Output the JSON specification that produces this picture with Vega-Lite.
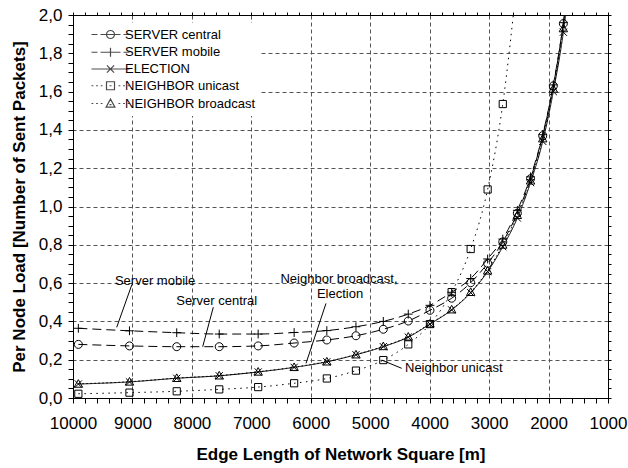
{
  "$schema": "https://vega.github.io/schema/vega-lite/v6.json",
  "autosize": {"type": "none"},
  "padding": {"left": 73, "top": 15, "right": 20, "bottom": 70},
  "width": 535,
  "height": 383,
  "background": "white",
  "config": {
    "view": {"stroke": "black", "strokeWidth": 1},
    "font": "Liberation Sans",
    "axis": {
      "labelFont": "Liberation Sans", "labelFontSize": 17, "labelColor": "black",
      "titleFont": "Liberation Sans", "titleFontSize": 17, "titleFontWeight": "bold", "titleColor": "black",
      "tickColor": "black", "domainColor": "black", "tickWidth": 1, "domainWidth": 1,
      "gridColor": "#555555", "gridDash": [4, 3], "gridWidth": 1, "labelOverlap": false, "labelFlush": false
    },
    "legend": {"labelFont": "Liberation Sans", "labelFontSize": 13, "labelColor": "black"}
  },
  "resolve": {"scale": {"shape": "independent"}, "legend": {"shape": "independent"}},
  "datasets": {
    "series": [
      {"s": "SERVER central", "x": 9910, "y": 0.280},
      {"s": "SERVER central", "x": 9050, "y": 0.272},
      {"s": "SERVER central", "x": 8255, "y": 0.268},
      {"s": "SERVER central", "x": 7540, "y": 0.268},
      {"s": "SERVER central", "x": 6885, "y": 0.272},
      {"s": "SERVER central", "x": 6280, "y": 0.287},
      {"s": "SERVER central", "x": 5730, "y": 0.303},
      {"s": "SERVER central", "x": 5240, "y": 0.325},
      {"s": "SERVER central", "x": 4780, "y": 0.359},
      {"s": "SERVER central", "x": 4360, "y": 0.402},
      {"s": "SERVER central", "x": 3995, "y": 0.458},
      {"s": "SERVER central", "x": 3630, "y": 0.521},
      {"s": "SERVER central", "x": 3310, "y": 0.602},
      {"s": "SERVER central", "x": 3025, "y": 0.703},
      {"s": "SERVER central", "x": 2770, "y": 0.815},
      {"s": "SERVER central", "x": 2525, "y": 0.965},
      {"s": "SERVER central", "x": 2303, "y": 1.145},
      {"s": "SERVER central", "x": 2098, "y": 1.370},
      {"s": "SERVER central", "x": 1920, "y": 1.630},
      {"s": "SERVER central", "x": 1751, "y": 1.955},
      {"s": "SERVER central", "x": 1600, "y": 2.340},
      {"s": "SERVER mobile", "x": 9910, "y": 0.364},
      {"s": "SERVER mobile", "x": 9050, "y": 0.351},
      {"s": "SERVER mobile", "x": 8255, "y": 0.341},
      {"s": "SERVER mobile", "x": 7540, "y": 0.334},
      {"s": "SERVER mobile", "x": 6885, "y": 0.334},
      {"s": "SERVER mobile", "x": 6280, "y": 0.342},
      {"s": "SERVER mobile", "x": 5730, "y": 0.352},
      {"s": "SERVER mobile", "x": 5240, "y": 0.372},
      {"s": "SERVER mobile", "x": 4780, "y": 0.400},
      {"s": "SERVER mobile", "x": 4360, "y": 0.438},
      {"s": "SERVER mobile", "x": 3995, "y": 0.484},
      {"s": "SERVER mobile", "x": 3630, "y": 0.552},
      {"s": "SERVER mobile", "x": 3310, "y": 0.624},
      {"s": "SERVER mobile", "x": 3025, "y": 0.726},
      {"s": "SERVER mobile", "x": 2770, "y": 0.830},
      {"s": "SERVER mobile", "x": 2525, "y": 0.980},
      {"s": "SERVER mobile", "x": 2303, "y": 1.155},
      {"s": "SERVER mobile", "x": 2098, "y": 1.375},
      {"s": "SERVER mobile", "x": 1920, "y": 1.635},
      {"s": "SERVER mobile", "x": 1751, "y": 1.960},
      {"s": "SERVER mobile", "x": 1600, "y": 2.350},
      {"s": "ELECTION", "x": 9910, "y": 0.073},
      {"s": "ELECTION", "x": 9050, "y": 0.084},
      {"s": "ELECTION", "x": 8255, "y": 0.103},
      {"s": "ELECTION", "x": 7540, "y": 0.116},
      {"s": "ELECTION", "x": 6885, "y": 0.136},
      {"s": "ELECTION", "x": 6280, "y": 0.160},
      {"s": "ELECTION", "x": 5730, "y": 0.189},
      {"s": "ELECTION", "x": 5240, "y": 0.226},
      {"s": "ELECTION", "x": 4780, "y": 0.268},
      {"s": "ELECTION", "x": 4360, "y": 0.318},
      {"s": "ELECTION", "x": 3995, "y": 0.386},
      {"s": "ELECTION", "x": 3630, "y": 0.460},
      {"s": "ELECTION", "x": 3310, "y": 0.550},
      {"s": "ELECTION", "x": 3025, "y": 0.660},
      {"s": "ELECTION", "x": 2770, "y": 0.790},
      {"s": "ELECTION", "x": 2525, "y": 0.940},
      {"s": "ELECTION", "x": 2303, "y": 1.125},
      {"s": "ELECTION", "x": 2098, "y": 1.340},
      {"s": "ELECTION", "x": 1920, "y": 1.600},
      {"s": "ELECTION", "x": 1751, "y": 1.910},
      {"s": "ELECTION", "x": 1600, "y": 2.300},
      {"s": "NEIGHBOR unicast", "x": 9910, "y": 0.022},
      {"s": "NEIGHBOR unicast", "x": 9050, "y": 0.028},
      {"s": "NEIGHBOR unicast", "x": 8255, "y": 0.035},
      {"s": "NEIGHBOR unicast", "x": 7540, "y": 0.045},
      {"s": "NEIGHBOR unicast", "x": 6885, "y": 0.057},
      {"s": "NEIGHBOR unicast", "x": 6280, "y": 0.077},
      {"s": "NEIGHBOR unicast", "x": 5730, "y": 0.102},
      {"s": "NEIGHBOR unicast", "x": 5240, "y": 0.143},
      {"s": "NEIGHBOR unicast", "x": 4780, "y": 0.198},
      {"s": "NEIGHBOR unicast", "x": 4360, "y": 0.280},
      {"s": "NEIGHBOR unicast", "x": 3995, "y": 0.386},
      {"s": "NEIGHBOR unicast", "x": 3630, "y": 0.553},
      {"s": "NEIGHBOR unicast", "x": 3310, "y": 0.778},
      {"s": "NEIGHBOR unicast", "x": 3025, "y": 1.089},
      {"s": "NEIGHBOR unicast", "x": 2770, "y": 1.535},
      {"s": "NEIGHBOR unicast", "x": 2525, "y": 2.200},
      {"s": "NEIGHBOR broadcast", "x": 9910, "y": 0.074},
      {"s": "NEIGHBOR broadcast", "x": 9050, "y": 0.085},
      {"s": "NEIGHBOR broadcast", "x": 8255, "y": 0.104},
      {"s": "NEIGHBOR broadcast", "x": 7540, "y": 0.117},
      {"s": "NEIGHBOR broadcast", "x": 6885, "y": 0.137},
      {"s": "NEIGHBOR broadcast", "x": 6280, "y": 0.161},
      {"s": "NEIGHBOR broadcast", "x": 5730, "y": 0.190},
      {"s": "NEIGHBOR broadcast", "x": 5240, "y": 0.227},
      {"s": "NEIGHBOR broadcast", "x": 4780, "y": 0.270},
      {"s": "NEIGHBOR broadcast", "x": 4360, "y": 0.320},
      {"s": "NEIGHBOR broadcast", "x": 3995, "y": 0.388},
      {"s": "NEIGHBOR broadcast", "x": 3630, "y": 0.462},
      {"s": "NEIGHBOR broadcast", "x": 3310, "y": 0.553},
      {"s": "NEIGHBOR broadcast", "x": 3025, "y": 0.665},
      {"s": "NEIGHBOR broadcast", "x": 2770, "y": 0.800},
      {"s": "NEIGHBOR broadcast", "x": 2525, "y": 0.955},
      {"s": "NEIGHBOR broadcast", "x": 2303, "y": 1.135},
      {"s": "NEIGHBOR broadcast", "x": 2098, "y": 1.355},
      {"s": "NEIGHBOR broadcast", "x": 1920, "y": 1.615},
      {"s": "NEIGHBOR broadcast", "x": 1751, "y": 1.930},
      {"s": "NEIGHBOR broadcast", "x": 1600, "y": 2.320}
    ],
    "notes": [
      {"label": "Server mobile", "x": 8620, "y": 0.612},
      {"label": "Server central", "x": 7582, "y": 0.508},
      {"label": "Neighbor broadcast,", "x": 5525, "y": 0.621},
      {"label": "Election", "x": 5508, "y": 0.541}
    ],
    "notesLeft": [
      {"label": "Neighbor unicast", "x": 4415, "y": 0.155}
    ],
    "leaders": [
      {"x": 9012, "y": 0.590, "x2": 9265, "y2": 0.369},
      {"x": 7640, "y": 0.474, "x2": 7818, "y2": 0.268},
      {"x": 5744, "y": 0.494, "x2": 6080, "y2": 0.181},
      {"x": 4807, "y": 0.198, "x2": 4470, "y2": 0.155}
    ]
  },
  "layer": [
    {
      "data": {"name": "series"},
      "mark": {"type": "line", "color": "black", "strokeWidth": 1, "clip": true, "interpolate": "monotone"},
      "encoding": {
        "x": {"field": "x", "type": "quantitative",
          "scale": {"domain": [1000, 10000], "reverse": true, "nice": false, "zero": false},
          "axis": {
            "orient": "bottom", "title": "Edge Length of Network Square [m]", "format": "d",
            "values": [1000,1200,1400,1600,1800,2000,2200,2400,2600,2800,3000,3200,3400,3600,3800,4000,4200,4400,4600,4800,5000,5200,5400,5600,5800,6000,6200,6400,6600,6800,7000,7200,7400,7600,7800,8000,8200,8400,8600,8800,9000,9200,9400,9600,9800,10000],
            "labelExpr": "datum.value % 1000 === 0 ? datum.label : ''",
            "tickSize": 5, "labelPadding": 12, "titlePadding": 15,
            "grid": true,
            "gridOpacity": {"condition": {"test": "datum.value % 1000 === 0 && datum.value > 1000 && datum.value < 10000", "value": 1}, "value": 0},
            "encode": {"ticks": {"y2": {"condition": {"test": "datum.value % 1000 === 0", "value": 5}, "value": -3}}}
          }
        },
        "y": {"field": "y", "type": "quantitative",
          "scale": {"domain": [0, 2], "nice": false, "zero": false},
          "axis": {
            "orient": "left", "title": "Per Node Load [Number of Sent Packets]",
            "values": [0,0.05,0.1,0.15,0.2,0.25,0.3,0.35,0.4,0.45,0.5,0.55,0.6,0.65,0.7,0.75,0.8,0.85,0.9,0.95,1,1.05,1.1,1.15,1.2,1.25,1.3,1.35,1.4,1.45,1.5,1.55,1.6,1.65,1.7,1.75,1.8,1.85,1.9,1.95,2],
            "labelExpr": "round(datum.value * 100) % 20 === 0 ? replace(format(datum.value, '.1f'), '.', ',') : ''",
            "tickSize": 5, "labelPadding": 6, "titlePadding": 10,
            "grid": true,
            "gridOpacity": {"condition": {"test": "round(datum.value * 100) % 20 === 0 && datum.value > 0.01 && datum.value < 1.99", "value": 1}, "value": 0},
            "encode": {"ticks": {"x2": {"condition": {"test": "round(datum.value * 100) % 20 === 0", "value": -5}, "value": 3}}}
          }
        },
        "strokeDash": {"field": "s", "type": "nominal", "legend": null,
          "scale": {"domain": ["ELECTION", "SERVER central", "SERVER mobile", "NEIGHBOR unicast", "NEIGHBOR broadcast"],
                    "range": [[1, 0], [9, 5], [9, 5], [1.5, 4.5], [1.5, 2.5]]}},
        "detail": {"field": "s", "type": "nominal"}
      }
    },
    {
      "data": {"name": "series"},
      "mark": {"type": "point", "filled": false, "color": "black", "strokeWidth": 1, "size": 64, "clip": true, "opacity": 1},
      "encoding": {
        "x": {"field": "x", "type": "quantitative",
          "scale": {"domain": [1000, 10000], "reverse": true, "nice": false, "zero": false},
          "axis": {
            "orient": "top", "title": null, "labels": false, "grid": false, "tickSize": 3,
            "values": [1000,1200,1400,1600,1800,2000,2200,2400,2600,2800,3000,3200,3400,3600,3800,4000,4200,4400,4600,4800,5000,5200,5400,5600,5800,6000,6200,6400,6600,6800,7000,7200,7400,7600,7800,8000,8200,8400,8600,8800,9000,9200,9400,9600,9800,10000],
            "encode": {"ticks": {"y2": {"value": 3}}}
          }
        },
        "y": {"field": "y", "type": "quantitative",
          "scale": {"domain": [0, 2], "nice": false, "zero": false},
          "axis": {
            "orient": "right", "title": null, "labels": false, "grid": false, "tickSize": 3,
            "values": [0,0.05,0.1,0.15,0.2,0.25,0.3,0.35,0.4,0.45,0.5,0.55,0.6,0.65,0.7,0.75,0.8,0.85,0.9,0.95,1,1.05,1.1,1.15,1.2,1.25,1.3,1.35,1.4,1.45,1.5,1.55,1.6,1.65,1.7,1.75,1.8,1.85,1.9,1.95,2],
            "encode": {"ticks": {"x2": {"value": -3}}}
          }
        },
        "shape": {"field": "s", "type": "nominal", "legend": null,
          "scale": {"domain": ["NEIGHBOR broadcast", "SERVER central", "SERVER mobile", "ELECTION", "NEIGHBOR unicast"],
                    "range": ["M0,-1.05L1.05,0.85L-1.05,0.85Z", "M1,0A1,1 0 1,1 -1,0A1,1 0 1,1 1,0Z", "M0,-1.1L0,1.1M-1.1,0L1.1,0", "M-0.9,-0.9L0.9,0.9M-0.9,0.9L0.9,-0.9", "M-0.9,-0.9L0.9,-0.9L0.9,0.9L-0.9,0.9Z"]}
        }
      }
    },
    {
      "data": {"name": "series"},
      "transform": [{"filter": "datum.x < 0"}],
      "mark": {"type": "point", "filled": false, "color": "black", "strokeWidth": 1.2, "size": 64},
      "encoding": {
        "x": {"field": "x", "type": "quantitative", "axis": null, "scale": {"domain": [1000, 10000], "reverse": true, "nice": false, "zero": false}},
        "y": {"field": "y", "type": "quantitative", "axis": null, "scale": {"domain": [0, 2], "nice": false, "zero": false}},
        "shape": {"field": "s", "type": "nominal",
          "scale": {"domain": ["SERVER central", "SERVER mobile", "ELECTION", "NEIGHBOR unicast", "NEIGHBOR broadcast"],
                    "range": [
                      "M-4.75,0L-3.25,0M-2.5,0L2.5,0M3.25,0L4.75,0M1,0A1,1 0 1,1 -1,0A1,1 0 1,1 1,0",
                      "M-4.75,0L-3.25,0M-2.5,0L2.5,0M3.25,0L4.75,0M0,-1.1L0,1.1",
                      "M-4.75,0L4.75,0M-0.9,-0.9L0.9,0.9M-0.9,0.9L0.9,-0.9",
                      "M-4.75,0L-4.3,0M-3.6,0L-3.15,0M-2.45,0L-2,0M2,0L2.45,0M3.15,0L3.6,0M4.3,0L4.75,0M-0.25,0L0.25,0M-1,-1L1,-1L1,1L-1,1Z",
                      "M-4.75,0L-4.3,0M-3.6,0L-3.15,0M-2.45,0L-2,0M2,0L2.45,0M3.15,0L3.6,0M4.3,0L4.75,0M-0.25,0.3L0.25,0.3M0,-1.1L1.1,0.9L-1.1,0.9Z"
                    ]},
          "legend": {
            "title": null, "orient": "none", "legendX": 1, "legendY": 8,
            "fillColor": "white", "padding": 5, "rowPadding": 2.75,
            "symbolSize": 64, "symbolStrokeWidth": 1.2, "symbolStrokeColor": "black", "symbolFillColor": "transparent",
            "symbolOffset": 25, "labelOffset": 8, "labelFontSize": 13, "labelFont": "Liberation Sans"
          }
        }
      }
    },
    {
      "data": {"name": "leaders"},
      "mark": {"type": "rule", "color": "black", "strokeWidth": 1},
      "encoding": {
        "x": {"field": "x", "type": "quantitative", "axis": null, "scale": {"domain": [1000, 10000], "reverse": true, "nice": false, "zero": false}},
        "y": {"field": "y", "type": "quantitative", "axis": null, "scale": {"domain": [0, 2], "nice": false, "zero": false}},
        "x2": {"field": "x2"},
        "y2": {"field": "y2"}
      }
    },
    {
      "data": {"name": "notes"},
      "mark": {"type": "text", "align": "center", "baseline": "middle", "font": "Liberation Sans", "fontSize": 13, "color": "black"},
      "encoding": {
        "x": {"field": "x", "type": "quantitative", "axis": null, "scale": {"domain": [1000, 10000], "reverse": true, "nice": false, "zero": false}},
        "y": {"field": "y", "type": "quantitative", "axis": null, "scale": {"domain": [0, 2], "nice": false, "zero": false}},
        "text": {"field": "label"}
      }
    },
    {
      "data": {"name": "notesLeft"},
      "mark": {"type": "text", "align": "left", "baseline": "middle", "font": "Liberation Sans", "fontSize": 13, "color": "black"},
      "encoding": {
        "x": {"field": "x", "type": "quantitative", "axis": null, "scale": {"domain": [1000, 10000], "reverse": true, "nice": false, "zero": false}},
        "y": {"field": "y", "type": "quantitative", "axis": null, "scale": {"domain": [0, 2], "nice": false, "zero": false}},
        "text": {"field": "label"}
      }
    }
  ]
}
